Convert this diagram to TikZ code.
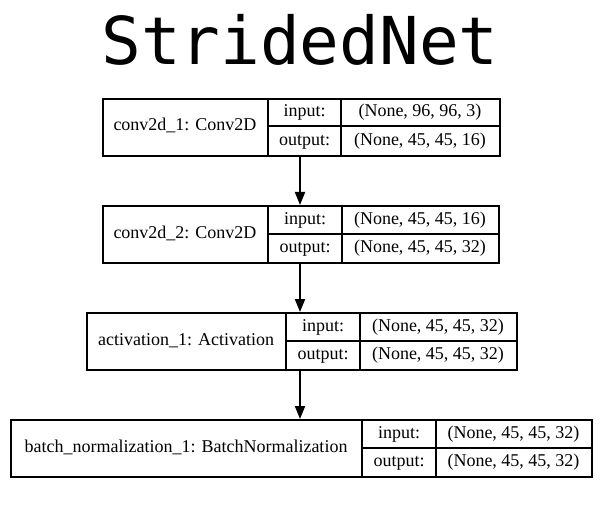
\documentclass[tikz,border=0pt]{standalone}
\usepackage{fontspec}
\setmainfont{Liberation Serif}
\newfontfamily\titlefont{DejaVu Sans Mono}
\usetikzlibrary{arrows.meta}
\tikzset{
  frame/.style={draw, line width=2pt, inner sep=0pt},
  divider/.style={line width=2pt},
  cell/.style={font=\fontsize{18}{18}\selectfont, inner sep=0pt, text height=13pt, text depth=4pt},
  arr/.style={draw, line width=2pt, -{Triangle[length=13pt,width=10pt]}},
}
% \layerbox{name}{x0}{d1}{d2}{x1}{ytop}{label}{in}{out}
\newcommand\layerbox[9]{%
  \pgfmathsetmacro\ybot{#6+57}%
  \pgfmathsetmacro\ymid{#6+28.5}%
  \node[frame, minimum width=#5-#2, minimum height=57pt, anchor=north west] (#1) at (#2,#6) {};
  \draw[divider] (#3,#6) -- (#3,\ybot);
  \draw[divider] (#4,#6) -- (#4,\ybot);
  \draw[divider] (#3,\ymid) -- (#5,\ymid);
  \node[cell] (#1l) at ({(#2+#3)/2},\ymid) {#7};
  \node[cell] (#1i) at ({(#3+#4)/2},{#6+14.5}) {input:};
  \node[cell] (#1o) at ({(#3+#4)/2},{#6+43}) {output:};
  \node[cell] (#1iv) at ({(#4+#5)/2},{#6+14.5}) {#8};
  \node[cell] (#1ov) at ({(#4+#5)/2},{#6+43}) {#9};
}
\begin{document}
\begin{tikzpicture}[x=1pt,y=-1pt]
\useasboundingbox (0,0) rectangle (600,524);
\node[font=\fontsize{66}{66}\selectfont\titlefont, anchor=base] (title) at (300,65) {StridedNet};
\layerbox{b1}{102}{268}{341}{499}{98}{conv2d\_1: Conv2D}{(None, 96, 96, 3)}{(None, 45, 45, 16)}
\layerbox{b2}{102}{268}{342}{498}{205}{conv2d\_2: Conv2D}{(None, 45, 45, 16)}{(None, 45, 45, 32)}
\layerbox{b3}{86}{286}{360}{516}{312}{activation\_1: Activation}{(None, 45, 45, 32)}{(None, 45, 45, 32)}
\layerbox{b4}{10}{362}{436}{591}{419}{batch\_normalization\_1: BatchNormalization}{(None, 45, 45, 32)}{(None, 45, 45, 32)}
\draw[arr] (b1.south -| title.base) -- (b2.north -| title.base);
\draw[arr] (b2.south -| title.base) -- (b3.north -| title.base);
\draw[arr] (b3.south -| title.base) -- (b4.north -| title.base);
\end{tikzpicture}
\end{document}
